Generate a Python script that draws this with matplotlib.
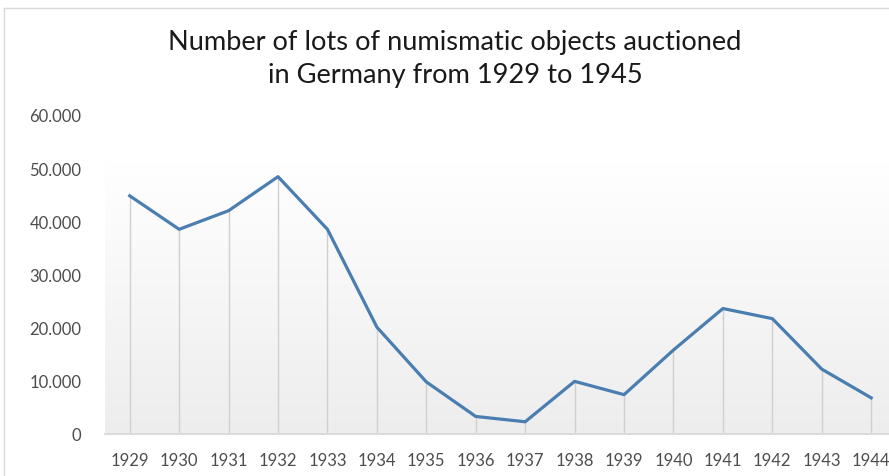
import numpy as np
import matplotlib
matplotlib.use("Agg")
import matplotlib.pyplot as plt
from matplotlib.lines import Line2D
from matplotlib.ticker import FuncFormatter

# values (lots per year)
years = ["1929", "1930", "1931", "1932", "1933", "1934", "1935", "1936",
         "1937", "1938", "1939", "1940", "1941", "1942", "1943", "1944"]
lots = [44800, 38500, 42000, 48400, 38500, 20100, 9800, 3300,
        2300, 9900, 7400, 15800, 23600, 21700, 12200, 6800]
y_ticks = [0, 10000, 20000, 30000, 40000, 50000, 60000]

title = "Number of lots of numismatic objects auctioned\nin Germany from 1929 to 1945"

plt.rcParams['font.family'] = ['Lato', 'DejaVu Sans']

fig = plt.figure(figsize=(8.89, 4.77), dpi=100)
W, H = 889, 477
ax = fig.add_axes([105 / W, 1 - 435 / H, 1 - 105 / W, (435 - 116) / H])

x = np.arange(len(years))
ax.set_xlim(-0.5, 15.36)
ax.set_ylim(0, 60000)

# plot area gradient: white at top, light grey towards the axis
grad = np.linspace(0, 1, 256).reshape(-1, 1)
shade = np.clip((grad - 0.15) / 0.85, 0, 1)
rgb = 1.0 - 0.07 * shade
img = np.dstack([rgb, rgb, rgb])
ax.imshow(img, extent=[-0.5, 15.36, 0, 60000], origin='upper',
          aspect='auto', zorder=0)

# drop lines
ax.vlines(x, 0, lots, color='#d0d0d0', lw=1.0, zorder=1)
ax.plot(x, lots, color='#4a7eb1', lw=2.3, solid_joinstyle='round', zorder=3)

for s in ['top', 'right', 'left']:
    ax.spines[s].set_visible(False)
ax.spines['bottom'].set_color('#d9d9d9')
ax.spines['bottom'].set_linewidth(1.3)

ax.set_xticks(x)
ax.set_xticklabels(years)
ax.set_yticks(y_ticks)
ax.yaxis.set_major_formatter(FuncFormatter(lambda v, p: f"{int(v):,}".replace(",", ".")))
ax.tick_params(axis='both', length=0, labelsize=12, colors='#4d4d4d')
ax.tick_params(axis='y', pad=17)
ax.tick_params(axis='x', pad=13)

fig.text(455 / W, 1 - 59 / H, title, ha='center', va='center', fontsize=19.6,
         color='#1a1a1a', linespacing=1.4)

# chart area border (top and left edges visible in the crop)
fig.add_artist(Line2D([4 / W, 1], [1 - 9 / H, 1 - 9 / H], color='#d9d9d9', lw=1))
fig.add_artist(Line2D([4 / W, 4 / W], [0, 1 - 9 / H], color='#d9d9d9', lw=1))

fig.savefig("out.png", dpi=100)
